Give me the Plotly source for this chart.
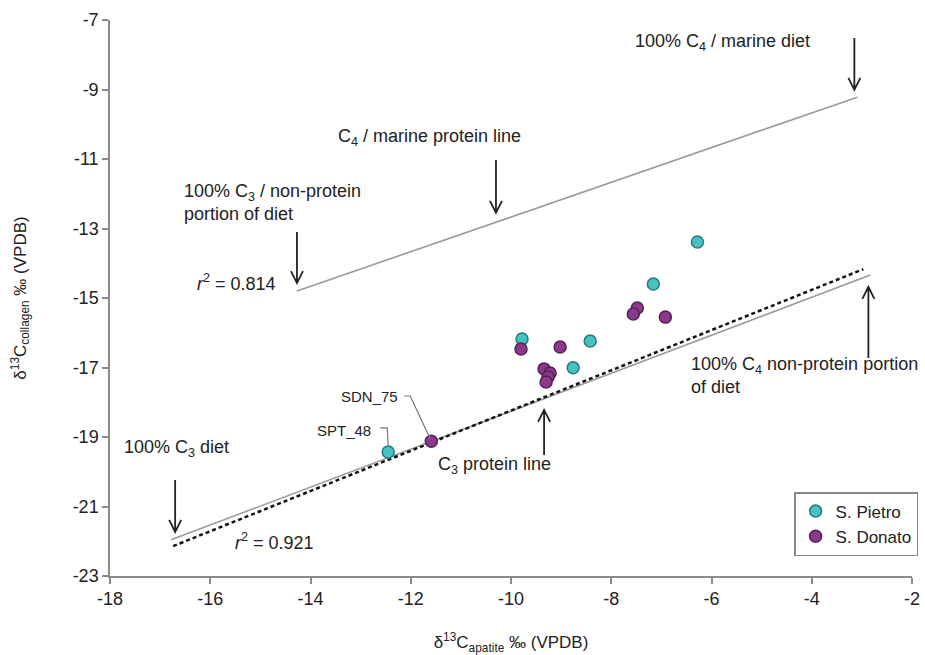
import plotly.graph_objects as go

# ---- data ----
pietro_x = [-6.28, -7.16, -9.78, -8.42, -8.76, -12.45]
pietro_y = [-13.39, -14.60, -16.18, -16.24, -17.01, -19.43]
donato_x = [-7.48, -7.56, -6.92, -9.80, -9.02, -9.34, -9.22, -9.26, -9.30, -11.59]
donato_y = [-15.29, -15.46, -15.55, -16.47, -16.41, -17.04, -17.16, -17.27, -17.42, -19.12]

c4_line_x = [-14.27, -3.09]
c4_line_y = [-14.80, -9.22]
c3_line_x = [-16.78, -2.83]
c3_line_y = [-21.96, -14.34]
reg_x = [-16.74, -2.97]
reg_y = [-22.14, -14.17]

x_ticks = [-18, -16, -14, -12, -10, -8, -6, -4, -2]
y_ticks = [-7, -9, -11, -13, -15, -17, -19, -21, -23]

# annotation arrows: (x, tail_y, tip_y)
arrows = [
    (-3.15, -7.52, -9.01),
    (-10.30, -11.03, -12.55),
    (-14.27, -13.10, -14.57),
    (-9.34, -19.52, -18.22),
    (-2.87, -16.73, -14.68),
    (-16.70, -20.24, -21.73),
]

FONT = "Liberation Sans, Arial, sans-serif"
TXT = "#222222"

fig = go.Figure()
fig.add_trace(go.Scatter(x=c4_line_x, y=c4_line_y, mode="lines",
                         line=dict(color="#9a9a9a", width=1.6), showlegend=False, hoverinfo="skip"))
fig.add_trace(go.Scatter(x=c3_line_x, y=c3_line_y, mode="lines",
                         line=dict(color="#9a9a9a", width=1.6), showlegend=False, hoverinfo="skip"))
fig.add_trace(go.Scatter(x=reg_x, y=reg_y, mode="lines",
                         line=dict(color="#111111", width=2.5, dash="4px,3px"), showlegend=False, hoverinfo="skip"))
fig.add_trace(go.Scatter(x=pietro_x, y=pietro_y, mode="markers", name="S. Pietro",
                         marker=dict(size=12, color="#45c2c2", line=dict(color="#2a7a7c", width=1.5))))
fig.add_trace(go.Scatter(x=donato_x, y=donato_y, mode="markers", name="S. Donato",
                         marker=dict(size=12, color="#8b3a8b", line=dict(color="#5a1d5c", width=1.5))))

shapes = []
dx, dy = 0.12, 0.345
for x, ytail, ytip in arrows:
    s = dy if ytip < ytail else -dy
    path = (f"M {x},{ytail} L {x},{ytip} "
            f"M {x-dx},{ytip+s} L {x},{ytip} L {x+dx},{ytip+s}")
    shapes.append(dict(type="path", path=path, xref="x", yref="y",
                       line=dict(color=TXT, width=1.8)))

# leader lines for labels
shapes.append(dict(type="path", xref="x", yref="y",
                   path="M -12.13,-17.82 L -12.01,-17.82 L -11.62,-19.03",
                   line=dict(color="#777777", width=1.2)))
shapes.append(dict(type="path", xref="x", yref="y",
                   path="M -12.61,-18.74 L -12.47,-18.74 L -12.45,-19.26",
                   line=dict(color="#777777", width=1.2)))

def ann(x, y, text, xanchor="left", size=18, align="left"):
    return dict(x=x, y=y, xref="x", yref="y", text=text, showarrow=False,
                xanchor=xanchor, yanchor="middle", align=align,
                font=dict(family=FONT, size=size, color=TXT))

annotations = [
    ann(-5.78, -7.66, "100% C<sub>4</sub> / marine diet", xanchor="center"),
    ann(-11.63, -10.37, "C<sub>4</sub> / marine protein line", xanchor="center"),
    ann(-16.56, -12.24, "100% C<sub>3</sub> / non-protein<br>portion of diet"),
    ann(-16.30, -14.54, "<i>r</i><sup>2</sup> = 0.814"),
    ann(-12.21, -17.82, "SDN_75", xanchor="right", size=15),
    ann(-12.75, -18.80, "SPT_48", xanchor="right", size=15),
    ann(-10.32, -19.81, "C<sub>3</sub> protein line", xanchor="center"),
    ann(-6.44, -17.24, "100% C<sub>4</sub> non-protein portion<br>of diet"),
    ann(-17.76, -19.32, "100% C<sub>3</sub> diet"),
    ann(-15.54, -22.02, "<i>r</i><sup>2</sup> = 0.921"),
]

axis_common = dict(showgrid=False, zeroline=False, showline=True, linecolor="#8a8a8a",
                   linewidth=1.5, ticks="outside", ticklen=6, tickcolor="#8a8a8a",
                   tickwidth=1.5, tickfont=dict(family=FONT, size=18, color=TXT),
                   automargin=False)

fig.update_layout(
    width=925, height=655,
    margin=dict(l=110, r=13, t=20, b=79, autoexpand=False),
    plot_bgcolor="white", paper_bgcolor="white",
    shapes=shapes, annotations=annotations,
    xaxis=dict(range=[-18, -2], tickvals=x_ticks, ticktext=[str(v) for v in x_ticks],
               title=dict(text="δ<sup>13</sup>C<sub>apatite</sub> ‰ (VPDB)", standoff=28,
                          font=dict(family=FONT, size=17, color=TXT)),
               **axis_common),
    yaxis=dict(range=[-23, -7], tickvals=y_ticks, ticktext=[str(v) for v in y_ticks],
               title=dict(text="δ<sup>13</sup>C<sub>collagen</sub> ‰ (VPDB)", standoff=42,
                          font=dict(family=FONT, size=17, color=TXT)),
               **axis_common),
    legend=dict(x=0.853, y=0.151, xanchor="left", yanchor="top",
                bordercolor="#888888", borderwidth=1.5, bgcolor="white",
                font=dict(family=FONT, size=17, color=TXT),
                itemwidth=30, tracegroupgap=6),
)

fig.write_html(
    "out.html",
    config={"responsive": False, "displayModeBar": False},
    post_script="document.body.style.margin='0';document.body.style.overflow='hidden';",
)
